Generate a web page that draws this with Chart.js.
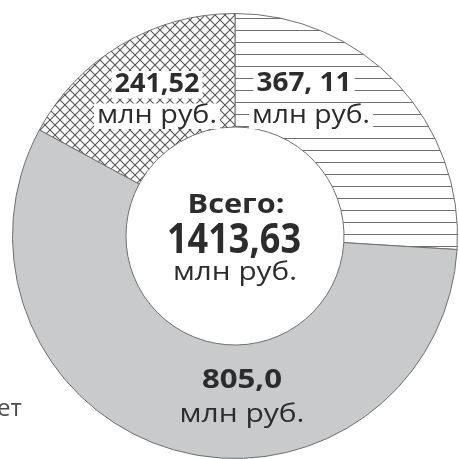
<!DOCTYPE html>
<html>
<head>
<meta charset="utf-8">
<script src="https://cdn.jsdelivr.net/npm/chart.js@4/dist/chart.umd.min.js"></script>
<style>
  html, body { margin: 0; padding: 0; background: #fff; overflow: hidden; }
  #wrap { position: relative; width: 459px; height: 459px; }
</style>
</head>
<body>
<div id="wrap"><canvas id="budgetChart" width="459" height="459"></canvas></div>
<script>
"use strict";

// data
const sliceLabels = ["367, 11", "805,0", "241,52"];
const sliceValues = [367.11, 805.0, 241.52];
const unitLabel = "млн руб.";
const totalTitle = "Всего:";
const totalValue = "1413,63";
const sideText = "ет";

const FONT = "'Open Sans', 'Noto Sans', sans-serif";
const INK = "#2c2c2c";

// hatch patterns
function stripePattern() {
  const c = document.createElement("canvas");
  c.width = 12; c.height = 12;
  const g = c.getContext("2d");
  g.fillStyle = "#fff";
  g.fillRect(0, 0, 12, 12);
  g.strokeStyle = "#707070";
  g.lineWidth = 1;
  g.beginPath();
  g.moveTo(0, 6.5); g.lineTo(12, 6.5);
  g.stroke();
  return g.createPattern(c, "repeat");
}

function crossPattern() {
  const s = 10;
  const c = document.createElement("canvas");
  c.width = s; c.height = s;
  const g = c.getContext("2d");
  g.fillStyle = "#fff";
  g.fillRect(0, 0, s, s);
  g.strokeStyle = "#555";
  g.lineWidth = 1.1;
  g.beginPath();
  g.moveTo(-1, -1); g.lineTo(s + 1, s + 1);
  g.moveTo(s + 1, -1); g.lineTo(-1, s + 1);
  g.stroke();
  return g.createPattern(c, "repeat");
}

// text fitted to a width
function fitText(ctx, text, x, y, size, weight, width, boxed) {
  ctx.save();
  ctx.font = weight + " " + size + "px " + FONT;
  const w = ctx.measureText(text).width;
  if (boxed) {
    ctx.fillStyle = "#fff";
    ctx.fillRect(x - width / 2 - 3, y - size * 0.78, width + 6, size * 1.02);
  }
  ctx.translate(x, y);
  ctx.scale(width / w, 1);
  ctx.textAlign = "center";
  ctx.textBaseline = "alphabetic";
  ctx.fillStyle = INK;
  ctx.fillText(text, 0, 0);
  ctx.restore();
}

// labels, placed relative to the doughnut centre
const labelPlugin = {
  id: "labelPlugin",
  afterDraw(chart) {
    const ctx = chart.ctx;
    const arc = chart.getDatasetMeta(0).data[0];
    const cx = arc.x, cy = arc.y;

    // 367, 11
    fitText(ctx, sliceLabels[0], cx + 69, cy - 145, 27, "bold", 95, true);
    fitText(ctx, unitLabel, cx + 76, cy - 113, 25, "normal", 118, true);
    // 805,0
    fitText(ctx, sliceLabels[1], cx + 7, cy + 152, 27, "bold", 80, false);
    fitText(ctx, unitLabel, cx + 7, cy + 186, 25, "normal", 125, false);
    // 241,52
    fitText(ctx, sliceLabels[2], cx - 78, cy - 144, 27, "bold", 85, true);
    fitText(ctx, unitLabel, cx - 78, cy - 113, 25, "normal", 120, true);

    // centre
    fitText(ctx, totalTitle, cx + 1, cy - 23, 27, "bold", 97, false);
    fitText(ctx, totalValue, cx - 1, cy + 17, 41, "bold", 134, false);
    fitText(ctx, unitLabel, cx, cy + 44, 25, "normal", 124, false);

    // cropped legend text at the left edge
    ctx.save();
    ctx.font = "normal 24px " + FONT;
    ctx.fillStyle = "#4a4a4a";
    ctx.textAlign = "left";
    ctx.textBaseline = "alphabetic";
    ctx.fillText(sideText, -3, 416);
    ctx.restore();
  }
};

const ctxBudget = document.getElementById("budgetChart").getContext("2d");

new Chart(ctxBudget, {
  type: "doughnut",
  data: {
    labels: sliceLabels,
    datasets: [
      {
        data: sliceValues,
        backgroundColor: [stripePattern(), "#c9cacc", crossPattern()],
        borderColor: "#6f6f6f",
        borderWidth: 1,
      },
    ],
  },
  options: {
    responsive: false,
    devicePixelRatio: 1,
    animation: false,
    cutout: "49%",
    layout: { padding: { left: 12, right: 1, top: 13, bottom: 0 } },
    plugins: {
      legend: { display: false },
      tooltip: { enabled: false },
    },
  },
  plugins: [labelPlugin],
});
</script>
</body>
</html>
